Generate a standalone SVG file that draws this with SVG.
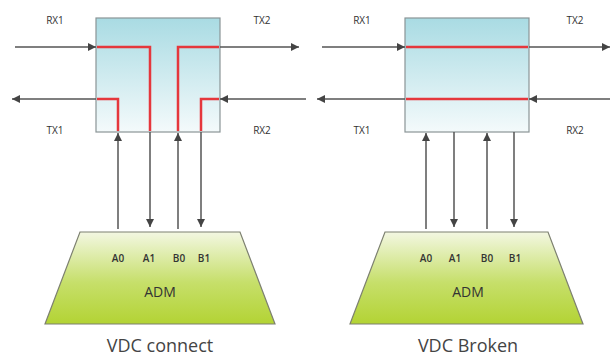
<svg xmlns="http://www.w3.org/2000/svg" width="610" height="358" viewBox="0 0 610 358">
<defs>
<linearGradient id="gBox" x1="0" y1="0" x2="0" y2="1">
<stop offset="0" stop-color="#a9dbe3"/>
<stop offset="1" stop-color="#f4fafb"/>
</linearGradient>
<linearGradient id="gAdm" x1="0" y1="0" x2="0" y2="1">
<stop offset="0" stop-color="#f3f7e2"/>
<stop offset="0.55" stop-color="#c6df6a"/>
<stop offset="1" stop-color="#b3d334"/>
</linearGradient>
<marker id="ah" viewBox="0 0 10 10" refX="10" refY="5" markerWidth="8" markerHeight="8" markerUnits="userSpaceOnUse" orient="auto">
<path d="M0,0 L10,5 L0,10 Z" fill="#444"/>
</marker>
</defs>
<style>
.box{fill:url(#gBox);stroke:#8a9496;stroke-width:1.2}
.adm{fill:url(#gAdm);stroke:#7d8070;stroke-width:1.2}
.ar{stroke:#555;stroke-width:1.5;fill:none;marker-end:url(#ah)}
.red{stroke:#e5373c;stroke-width:2.5;fill:none}
.lbl{font-family:"Open Sans","Liberation Sans",sans-serif;font-size:10px;fill:#333}
.port{font-family:"Open Sans","Liberation Sans",sans-serif;font-size:10px;font-weight:600;fill:#333}
.adml{font-family:"Open Sans","Liberation Sans",sans-serif;font-size:14px;fill:#333}
.cap{font-family:"Open Sans","Liberation Sans",sans-serif;font-size:18px;fill:#444}
</style>

<g id="left-switch">
<rect class="box" x="96" y="18" width="124" height="114"/>
</g>
<g id="left-adm">
<path class="adm" d="M80,232 L240,232 L275,324 L45,324 Z"/>
<text class="port" x="118" y="262" text-anchor="middle">A0</text>
<text class="port" x="149" y="262" text-anchor="middle">A1</text>
<text class="port" x="179" y="262" text-anchor="middle">B0</text>
<text class="port" x="204" y="262" text-anchor="middle">B1</text>
<text class="adml" x="160" y="297" text-anchor="middle">ADM</text>
</g>
<g id="left-labels">
<text class="lbl" x="55" y="24" text-anchor="middle">RX1</text>
<text class="lbl" x="262" y="24" text-anchor="middle">TX2</text>
<text class="lbl" x="55" y="134" text-anchor="middle">TX1</text>
<text class="lbl" x="262" y="134" text-anchor="middle">RX2</text>
<text class="cap" x="160" y="352" text-anchor="middle">VDC connect</text>
</g>

<g id="right-switch">
<rect class="box" x="405" y="18" width="124" height="114"/>
</g>
<g id="right-adm">
<path class="adm" d="M385,232 L548,232 L583,324 L350,324 Z"/>
<text class="port" x="426" y="262" text-anchor="middle">A0</text>
<text class="port" x="455" y="262" text-anchor="middle">A1</text>
<text class="port" x="487" y="262" text-anchor="middle">B0</text>
<text class="port" x="515" y="262" text-anchor="middle">B1</text>
<text class="adml" x="468" y="297" text-anchor="middle">ADM</text>
</g>
<g id="right-labels">
<text class="lbl" x="362" y="24" text-anchor="middle">RX1</text>
<text class="lbl" x="575" y="24" text-anchor="middle">TX2</text>
<text class="lbl" x="362" y="134" text-anchor="middle">TX1</text>
<text class="lbl" x="575" y="134" text-anchor="middle">RX2</text>
<text class="cap" x="468" y="352" text-anchor="middle">VDC Broken</text>
</g>

<g id="connectors">
<line class="ar" x1="15" y1="47" x2="96" y2="47"/>
<line class="ar" x1="220" y1="47" x2="299" y2="47"/>
<line class="ar" x1="96" y1="99" x2="12" y2="99"/>
<line class="ar" x1="306" y1="99" x2="220" y2="99"/>
<line class="ar" x1="118" y1="229" x2="118" y2="133"/>
<line class="ar" x1="150" y1="132" x2="150" y2="227"/>
<line class="ar" x1="178" y1="229" x2="178" y2="133"/>
<line class="ar" x1="201" y1="132" x2="201" y2="227"/>
<path class="red" d="M97,47 H150 V131"/>
<path class="red" d="M219,47 H178 V131"/>
<path class="red" d="M97,99 H118 V131"/>
<path class="red" d="M219,99 H201 V131"/>

<line class="ar" x1="322" y1="47" x2="405" y2="47"/>
<line class="ar" x1="529" y1="47" x2="610" y2="47"/>
<line class="ar" x1="405" y1="99" x2="317" y2="99"/>
<line class="ar" x1="612" y1="99" x2="529" y2="99"/>
<line class="ar" x1="426" y1="229" x2="426" y2="133"/>
<line class="ar" x1="454" y1="132" x2="454" y2="227"/>
<line class="ar" x1="487" y1="229" x2="487" y2="133"/>
<line class="ar" x1="514" y1="132" x2="514" y2="227"/>
<path class="red" d="M406,47 H528"/>
<path class="red" d="M406,99 H528"/>
</g>
</svg>
